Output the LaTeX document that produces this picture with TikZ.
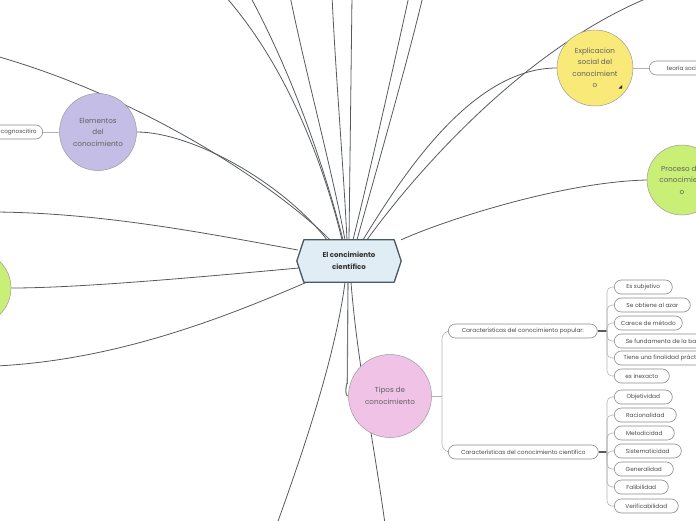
\documentclass[tikz,border=0pt]{standalone}
\usepackage{fontspec}
\setmainfont{Poppins}
\usetikzlibrary{calc}
\pgfdeclarelayer{bg}
\pgfdeclarelayer{mid}
\pgfsetlayers{bg,mid,main}
\definecolor{linkc}{HTML}{555A5E}
\definecolor{cfill}{HTML}{E1EDF4}
\definecolor{cborder}{HTML}{4B5860}
\definecolor{ctext}{HTML}{2E2E2E}
\definecolor{lav}{HTML}{C4BDE5}
\definecolor{yel}{HTML}{F8E979}
\definecolor{grn}{HTML}{C9EF77}
\definecolor{pinkc}{HTML}{EFC2E6}
\definecolor{circborder}{HTML}{9A9A9A}
\definecolor{circtext}{HTML}{606060}
\definecolor{pillborder}{HTML}{8A8A8A}
\definecolor{pilltext}{HTML}{4A4A4A}
\definecolor{sublinkc}{HTML}{B4B4B4}
\begin{document}
\begin{tikzpicture}[x=1pt,y=-1pt,
  bubble/.style={circle, draw=circborder, line width=0.5pt, text=circtext, font=\fontsize{7.2}{11.5}\selectfont, align=center, inner sep=0pt, minimum size=#1},
  pill/.style={rounded corners=7pt, draw=pillborder, fill=white, line width=0.6pt, text=pilltext, font=\fontsize{5.8}{7}\selectfont, minimum height=14pt, inner xsep=6pt, inner ysep=0pt, anchor=west},
  link/.style={draw=linkc, line width=0.8pt},
  sublink/.style={draw=sublinkc, line width=0.6pt},
  centerbox/.style={minimum width=104pt, minimum height=42pt, inner sep=0pt, align=center, text=ctext, font=\bfseries\fontsize{7}{12}\selectfont}
]
\useasboundingbox (0,0) rectangle (696,520);
\clip (0,0) rectangle (696,520);

% ---------- nodes ----------
\node[centerbox] (c) at (349,261) {El concimiento\\científico};
\begin{pgfonlayer}{mid}
\draw[fill=cfill, draw=cborder, line width=1.3pt, line join=round]
  (c.west) -- ([xshift=7pt]c.north west) -- ([xshift=-7pt]c.north east) -- (c.east)
  -- ([xshift=-7pt]c.south east) -- ([xshift=7pt]c.south west) -- cycle;
\end{pgfonlayer}

\node[bubble=77pt, fill=lav] (elem) at (98,132) {Elementos\\del\\conocimiento};
\node[pill, anchor=east] (cog) at (43,132) {Sujeto cognoscitiro};

\node[bubble=76pt, fill=yel] (expl) at (595,68) {Explicacion\\social del\\conocimient\\o};
\fill[black!85] ($(expl.center)+(23.5,20.5)$) -- ($(expl.center)+(27,20.5)$) -- ($(expl.center)+(27,17)$) -- cycle;
\node[pill, minimum width=70pt] (teo) at (649,68) {teoría social};

\node[bubble=70pt, fill=grn] (proc) at (682,180) {Proceso del\\conocimient\\o};
\node[bubble=74pt, fill=grn] (gleft) at (-26,288) {};

\node[bubble=83pt, fill=pinkc] (tipos) at (390,396) {Tipos de\\conocimiento};

\node[pill, minimum width=149pt] (pop) at (448,331) {Características del conocimiento popular:};
\node[pill, minimum width=150pt] (sci) at (448,452) {Características del conocimiento científico};

\node[pill, minimum width=58pt] (p1) at (614,287) {Es subjetivo};
\node[pill, minimum width=76pt] (p2) at (614,305) {Se obtiene al azar};
\node[pill, minimum width=68pt] (p3) at (614,323) {Carece de método};
\node[pill, minimum width=100pt] (p4) at (614,341) {Se fundamenta de la base};
\node[pill, minimum width=100pt] (p5) at (614,358) {Tiene una finalidad práctica};
\node[pill, minimum width=55pt] (p6) at (614,376) {es inexacto};

\node[pill, minimum width=58pt] (s1) at (614,397) {Objetividad};
\node[pill, minimum width=62pt] (s2) at (614,415) {Racionalidad};
\node[pill, minimum width=60pt] (s3) at (614,433) {Metodicidad};
\node[pill, minimum width=67pt] (s4) at (614,451) {Sistematicidad};
\node[pill, minimum width=59pt] (s5) at (614,469) {Generalidad};
\node[pill, minimum width=54pt] (s6) at (614,487) {Falibilidad};
\node[pill, minimum width=64pt] (s7) at (614,506) {Verificabilidad};

% free ends of connectors leaving the picture
\coordinate (t1) at (225,-4);
\coordinate (t2) at (250,-4);
\coordinate (t3) at (290,-4);
\coordinate (t4) at (332,-4);
\coordinate (t5) at (352,-4);
\coordinate (t6) at (409,-4);
\coordinate (t7) at (423,-4);
\coordinate (tr) at (650,-3);
\coordinate (l1) at (-4,56);
\coordinate (l2) at (-4,212);
\coordinate (l3) at (-4,366);
\coordinate (b1) at (277,524);
\coordinate (b2) at (385,524);

\coordinate (tj) at (442,396);
\coordinate (pj) at (607,331);
\coordinate (sj) at (607,452);

% ---------- connectors ----------
\begin{pgfonlayer}{bg}
% top fan
\draw[link] ($(c.north)+(-7,0)$) .. controls (325,170) and (290,70) .. (t1);
\draw[link] ($(c.north)+(-6,0)$) .. controls (325,170) and (295,80) .. (t2);
\draw[link] ($(c.north)+(-4,0)$) .. controls (332,170) and (305,70) .. (t3);
\draw[link] ($(c.north)+(-2,0)$) .. controls (343,160) and (336,80) .. (t4);
\draw[link] ($(c.north)+(0,0)$) -- (t5);
\draw[link] ($(c.north)+(4,0)$) .. controls (368,180) and (395,60) .. (t6);
\draw[link] ($(c.north)+(8,0)$) .. controls (375,175) and (408,60) .. (t7);
% upper left
\draw[link] ($(c.north)+(-22,0)$) .. controls (280,180) and (190,132) .. (elem.east);
\draw[link] ($(c.north)+(-19,0)$) .. controls (280,190) and (150,100) .. (l1);
% left
\draw[link] ($(c.west)+(1,-11)$) .. controls (200,232) and (100,213) .. (l2);
\draw[link] ($(c.west)+(2,7)$) .. controls (200,277) and (80,288) .. (gleft.east);
\draw[link] ($(c.south west)+(10,0)$) .. controls (230,315) and (120,360) .. (l3);
% upper right
\draw[link] ($(c.north)+(14,0)$) .. controls (400,180) and (470,68) .. (expl.west);
\draw[link] ($(c.north)+(18,0)$) .. controls (410,180) and (520,50) .. (tr);
\draw[link] ($(c.north east)+(0,0)$) .. controls (440,222) and (560,182) .. (proc.west);
% bottom
\draw[link] ($(c.south)+(-4,0)$) .. controls (335,360) and (300,460) .. (b1);
\draw[link] ($(c.south)+(2,0)$) .. controls (357,360) and (375,450) .. (b2);
\draw[draw=linkc!80, line width=1.1pt] ($(c.south)+(-1,0)$) -- ($(tipos.west)+(-1,-12)$) to[out=90,in=180] (tipos.west);

% sub connectors
\draw[sublink] (cog.east) -- (elem.west);
\draw[sublink] (expl.east) -- (teo.west);
\draw[sublink] (tipos.east) -- (tj);
\draw[sublink, rounded corners=8pt] (tj) |- (pop.west);
\draw[sublink, rounded corners=8pt] (tj) |- (sci.west);

\draw[draw=linkc, line width=1.3pt] (pop.east) -- (pj);
\draw[draw=linkc, line width=1.3pt] (sci.east) -- (sj);
\foreach \k in {p1,p2,p3,p4,p5,p6}{
  \draw[sublink, rounded corners=5pt] (pj) |- (\k.west);
}
\foreach \k in {s1,s2,s3,s4,s5,s6,s7}{
  \draw[sublink, rounded corners=5pt] (sj) |- (\k.west);
}
\end{pgfonlayer}
\end{tikzpicture}
\end{document}
